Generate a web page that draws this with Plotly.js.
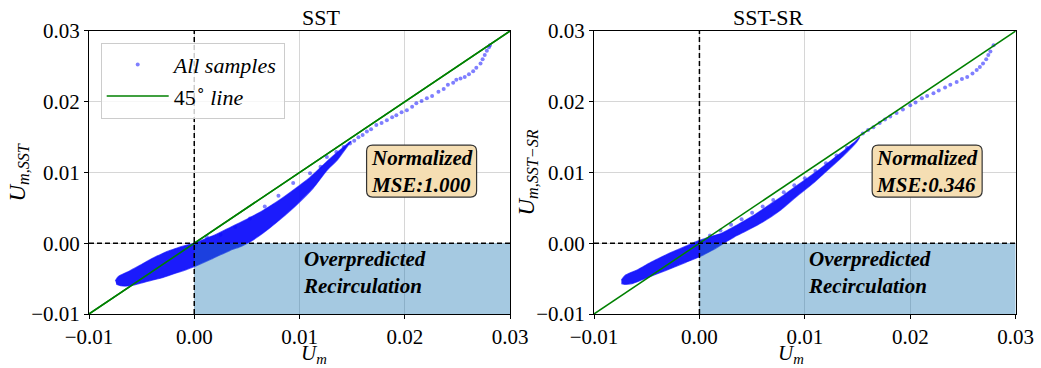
<!DOCTYPE html>
<html>
<head>
<meta charset="utf-8">
<script src="https://cdn.plot.ly/plotly-3.0.1.min.js"></script>
<style>
  html, body { margin: 0; padding: 0; background: #ffffff; }
  #chart { width: 1041px; height: 368px; }
</style>
</head>
<body>
<div id="chart"></div>
<script>
// Axis ticks shared by both panels
const tickVals = [-0.01, 0.00, 0.01, 0.02, 0.03];
const tickText = ['\u22120.01', '0.00', '0.01', '0.02', '0.03'];

// 45 degree reference line
const diagX = [-0.01, 0.03];
const diagY = [-0.01, 0.03];

// SST: outline of the dense sample cloud (upper edge left->right, lower edge right->left)
const sstCloudX = [-0.0075, -0.0072, -0.0061, -0.0050, -0.0039, -0.0028, -0.0017, -0.0008, 0.0000, 0.0010,
                   0.0020, 0.0035, 0.0050, 0.0065, 0.0080, 0.0095, 0.0110, 0.0125, 0.0138, 0.0146, 0.0149,
                   0.0146, 0.0136, 0.0126, 0.0113, 0.0097, 0.0081, 0.0065, 0.0053, 0.0045, 0.0034, 0.0018,
                   0.0000, -0.0015, -0.0029, -0.0045, -0.0061, -0.0070, -0.0074];
const sstCloudY = [-0.0053, -0.0047, -0.0039, -0.0030, -0.0021, -0.0013, -0.0007, -0.0003, 0.0000, 0.0006,
                   0.0012, 0.0023, 0.0034, 0.0046, 0.0060, 0.0076, 0.0093, 0.0114, 0.0131, 0.0141, 0.0144,
                   0.0138, 0.0118, 0.0103, 0.0078, 0.0054, 0.0033, 0.0014, 0.0002, -0.0004, -0.0010, -0.0021,
                   -0.0033, -0.0041, -0.0048, -0.0054, -0.0060, -0.0060, -0.0058];

// SST: individual samples on the upper edge of the cloud and along the high-velocity tail
const sstDotsX = [0.0012, 0.0025, 0.0039, 0.0053, 0.0067, 0.0080, 0.0094, 0.0110, 0.0120, 0.0126, 0.0135, 0.0142,
                  0.0148, 0.0152, 0.0156, 0.0160, 0.0164, 0.0168, 0.0173, 0.0178, 0.0183, 0.0188, 0.0192, 0.0197,
                  0.0202, 0.0207, 0.0211, 0.0216, 0.0221, 0.0226, 0.0232, 0.0237, 0.0241, 0.0246, 0.0249, 0.0253,
                  0.0257, 0.0261, 0.0265, 0.0268, 0.0272, 0.0274, 0.0276, 0.0278, 0.0280, 0.0281];
const sstDotsY = [0.0009, 0.0012, 0.0023, 0.0035, 0.0052, 0.0067, 0.0085, 0.0099, 0.0108, 0.0122, 0.0129, 0.0136,
                  0.0141, 0.0145, 0.0150, 0.0153, 0.0158, 0.0161, 0.0167, 0.0170, 0.0174, 0.0178, 0.0181, 0.0185,
                  0.0188, 0.0193, 0.0198, 0.0201, 0.0205, 0.0208, 0.0214, 0.0218, 0.0224, 0.0227, 0.0231, 0.0233,
                  0.0235, 0.0239, 0.0243, 0.0248, 0.0254, 0.0260, 0.0266, 0.0272, 0.0277, 0.0280];

// SST-SR: outline of the dense sample cloud
const srCloudX = [-0.0074, -0.0070, -0.0058, -0.0046, -0.0034, -0.0022, -0.0011, 0.0000, 0.0010, 0.0021,
                  0.0035, 0.0050, 0.0065, 0.0080, 0.0095, 0.0110, 0.0125, 0.0138, 0.0148, 0.0152,
                  0.0149, 0.0136, 0.0122, 0.0108, 0.0092, 0.0077, 0.0060, 0.0045, 0.0033, 0.0023, 0.0012,
                  0.0000, -0.0013, -0.0026, -0.0040, -0.0052, -0.0064, -0.0071, -0.0074];
const srCloudY = [-0.0052, -0.0045, -0.0037, -0.0027, -0.0018, -0.0010, -0.0003, 0.0004, 0.0009, 0.0014,
                  0.0025, 0.0038, 0.0053, 0.0068, 0.0084, 0.0100, 0.0117, 0.0132, 0.0144, 0.0150,
                  0.0143, 0.0123, 0.0104, 0.0085, 0.0066, 0.0047, 0.0030, 0.0018, 0.0009, 0.0000, -0.0010,
                  -0.0019, -0.0027, -0.0035, -0.0043, -0.0050, -0.0057, -0.0058, -0.0057];

// SST-SR: individual samples on the upper edge and along the tail
const srDotsX = [0.0010, 0.0020, 0.0030, 0.0040, 0.0050, 0.0060, 0.0070, 0.0080, 0.0090, 0.0100, 0.0110, 0.0120,
                 0.0130, 0.0140, 0.0155, 0.0160, 0.0165, 0.0171, 0.0176, 0.0181, 0.0187, 0.0193, 0.0200, 0.0205,
                 0.0211, 0.0216, 0.0222, 0.0227, 0.0233, 0.0238, 0.0244, 0.0249, 0.0254, 0.0259, 0.0263, 0.0266,
                 0.0269, 0.0272, 0.0274, 0.0276, 0.0279];
const srDotsY = [0.0011, 0.0018, 0.0026, 0.0034, 0.0043, 0.0052, 0.0061, 0.0072, 0.0082, 0.0092, 0.0102, 0.0113,
                 0.0124, 0.0135, 0.0155, 0.0160, 0.0164, 0.0170, 0.0175, 0.0179, 0.0184, 0.0189, 0.0195, 0.0199,
                 0.0205, 0.0208, 0.0212, 0.0216, 0.0220, 0.0224, 0.0228, 0.0232, 0.0235, 0.0240, 0.0245, 0.0249,
                 0.0254, 0.0260, 0.0266, 0.0271, 0.0280];

// Panel texts
const panelTitles = ['SST', 'SST-SR'];
const xTitle = '<i>U<sub>m</sub></i>';
const yTitles = ['<i>U<sub>m,SST</sub></i>', '<i>U<sub>m,SST\u2212SR</sub></i>'];
const mseValues = ['1.000', '0.346'];

const FONT = 'Liberation Serif';
const cloudFill = 'rgba(8,8,252,0.92)';
const cloudEdge = 'rgba(20,20,255,0.7)';
const dotColor = 'rgba(0,0,255,0.5)';

// rounded box (pixel units, centred on its anchor) behind the MSE label
const boxPath = 'M -49,-26 L 49,-26 Q 55,-26 55,-20 L 55,20 Q 55,26 49,26 L -49,26 ' +
                'Q -55,26 -55,20 L -55,-20 Q -55,-26 -49,-26 Z';

function cloudTrace(x, y, xa, ya) {
  return {
    x: x, y: y, xaxis: xa, yaxis: ya, type: 'scatter', mode: 'lines',
    fill: 'toself', fillcolor: cloudFill,
    line: { color: cloudEdge, width: 1.2, shape: 'spline', smoothing: 0.6 },
    showlegend: false, hoverinfo: 'skip'
  };
}

function dotsTrace(x, y, xa, ya, legend) {
  return {
    x: x, y: y, xaxis: xa, yaxis: ya, type: 'scatter', mode: 'markers',
    name: '<i>All samples</i>',
    marker: { color: dotColor, size: 4, line: { width: 0 } },
    showlegend: legend
  };
}

function diagTrace(xa, ya, legend) {
  return {
    x: diagX, y: diagY, xaxis: xa, yaxis: ya, type: 'scatter', mode: 'lines',
    name: '45<sup>\u2218</sup> <i>line</i>',
    line: { color: '#008000', width: 1.5 },
    showlegend: legend
  };
}

const traces = [
  dotsTrace(sstDotsX, sstDotsY, 'x', 'y', true),
  diagTrace('x', 'y', true),
  cloudTrace(sstCloudX, sstCloudY, 'x', 'y'),
  dotsTrace(srDotsX, srDotsY, 'x2', 'y2', false),
  cloudTrace(srCloudX, srCloudY, 'x2', 'y2')
];
// keep the diagonal above the cloud
traces.push(diagTrace('x', 'y', false));
traces.push(diagTrace('x2', 'y2', false));

function axis(domain, anchor) {
  return {
    domain: domain, anchor: anchor, range: [-0.01, 0.03],
    tickvals: tickVals, ticktext: tickText,
    showgrid: true, gridcolor: '#d6d6d6', gridwidth: 1, zeroline: false,
    showline: true, mirror: true, linecolor: '#000', linewidth: 1,
    ticks: 'outside', ticklen: 4, tickcolor: '#000',
    tickfont: { family: FONT, size: 21, color: '#000' },
    automargin: false
  };
}

const xDoms = [[89 / 1041, 510 / 1041], [594 / 1041, 1015.7 / 1041]];
const yDom = [0.1467, 0.9158];
const shapes = [];
const annotations = [];
[['x', 'y'], ['x2', 'y2']].forEach(function (ax, i) {
  // region where recirculation is overpredicted
  shapes.push({ type: 'rect', xref: ax[0], yref: ax[1], x0: 0, x1: 0.03, y0: -0.01, y1: 0,
    fillcolor: '#1f77b4', opacity: 0.4, line: { width: 0 }, layer: 'above' });
  shapes.push({ type: 'line', xref: ax[0], yref: ax[1], x0: 0, x1: 0, y0: -0.01, y1: 0.03,
    line: { color: '#000', width: 1.5, dash: '5px,3px' }, layer: 'above' });
  shapes.push({ type: 'line', xref: ax[0], yref: ax[1], x0: -0.01, x1: 0.03, y0: 0, y1: 0,
    line: { color: '#000', width: 1.5, dash: '5px,3px' }, layer: 'above' });
  shapes.push({ type: 'path', xref: ax[0], yref: ax[1], xsizemode: 'pixel', ysizemode: 'pixel',
    xanchor: 0.0216, yanchor: 0.0102, path: boxPath,
    fillcolor: '#f5deb3', line: { color: '#333333', width: 1.2 }, layer: 'above' });

  annotations.push({ xref: ax[0], yref: ax[1], x: 0.0216, y: 0.0102,
    text: '<b><i>Normalized<br>MSE:' + mseValues[i] + '</i></b>', showarrow: false,
    font: { family: FONT, size: 21, color: '#000' }, align: 'left' });
  annotations.push({ xref: ax[0], yref: ax[1], x: 0.0101, y: -0.0042, xanchor: 'left',
    text: '<b><i>Overpredicted<br>Recirculation</i></b>', showarrow: false,
    font: { family: FONT, size: 21, color: '#000' }, align: 'left' });

  // panel title and axis titles
  const xMid = (xDoms[i][0] + xDoms[i][1]) / 2;
  annotations.push({ xref: 'paper', yref: 'paper', x: xMid, y: 1 - 17 / 368, yanchor: 'middle',
    text: panelTitles[i], showarrow: false, font: { family: FONT, size: 22, color: '#000' } });
  annotations.push({ xref: 'paper', yref: 'paper', x: xMid, y: 1 - 354 / 368, yanchor: 'middle',
    text: xTitle, showarrow: false, font: { family: FONT, size: 21, color: '#000' }, borderpad: 0 });
  annotations.push({ xref: 'paper', yref: 'paper', x: (i === 0 ? 18 : 527) / 1041,
    y: (yDom[0] + yDom[1]) / 2, xanchor: 'center', yanchor: 'middle', textangle: -90,
    text: yTitles[i], showarrow: false, font: { family: FONT, size: 23, color: '#000' } });
});

const layout = {
  width: 1041, height: 368,
  margin: { l: 0, r: 0, t: 0, b: 0 },
  paper_bgcolor: '#ffffff', plot_bgcolor: '#ffffff',
  font: { family: FONT, size: 20, color: '#000' },
  xaxis: axis(xDoms[0], 'y'),
  yaxis: axis(yDom, 'x'),
  xaxis2: axis(xDoms[1], 'y2'),
  yaxis2: axis(yDom, 'x2'),
  shapes: shapes,
  annotations: annotations,
  legend: {
    x: 100.7 / 1041, y: 1 - 42.7 / 368, xanchor: 'left', yanchor: 'top',
    bgcolor: 'rgba(255,255,255,0.8)', bordercolor: '#cccccc', borderwidth: 1,
    font: { family: FONT, size: 22, color: '#000' },
    itemwidth: 62, tracegroupgap: 4
  },
  showlegend: true
};

Plotly.newPlot('chart', traces, layout, { displayModeBar: false, staticPlot: true });
</script>
</body>
</html>
